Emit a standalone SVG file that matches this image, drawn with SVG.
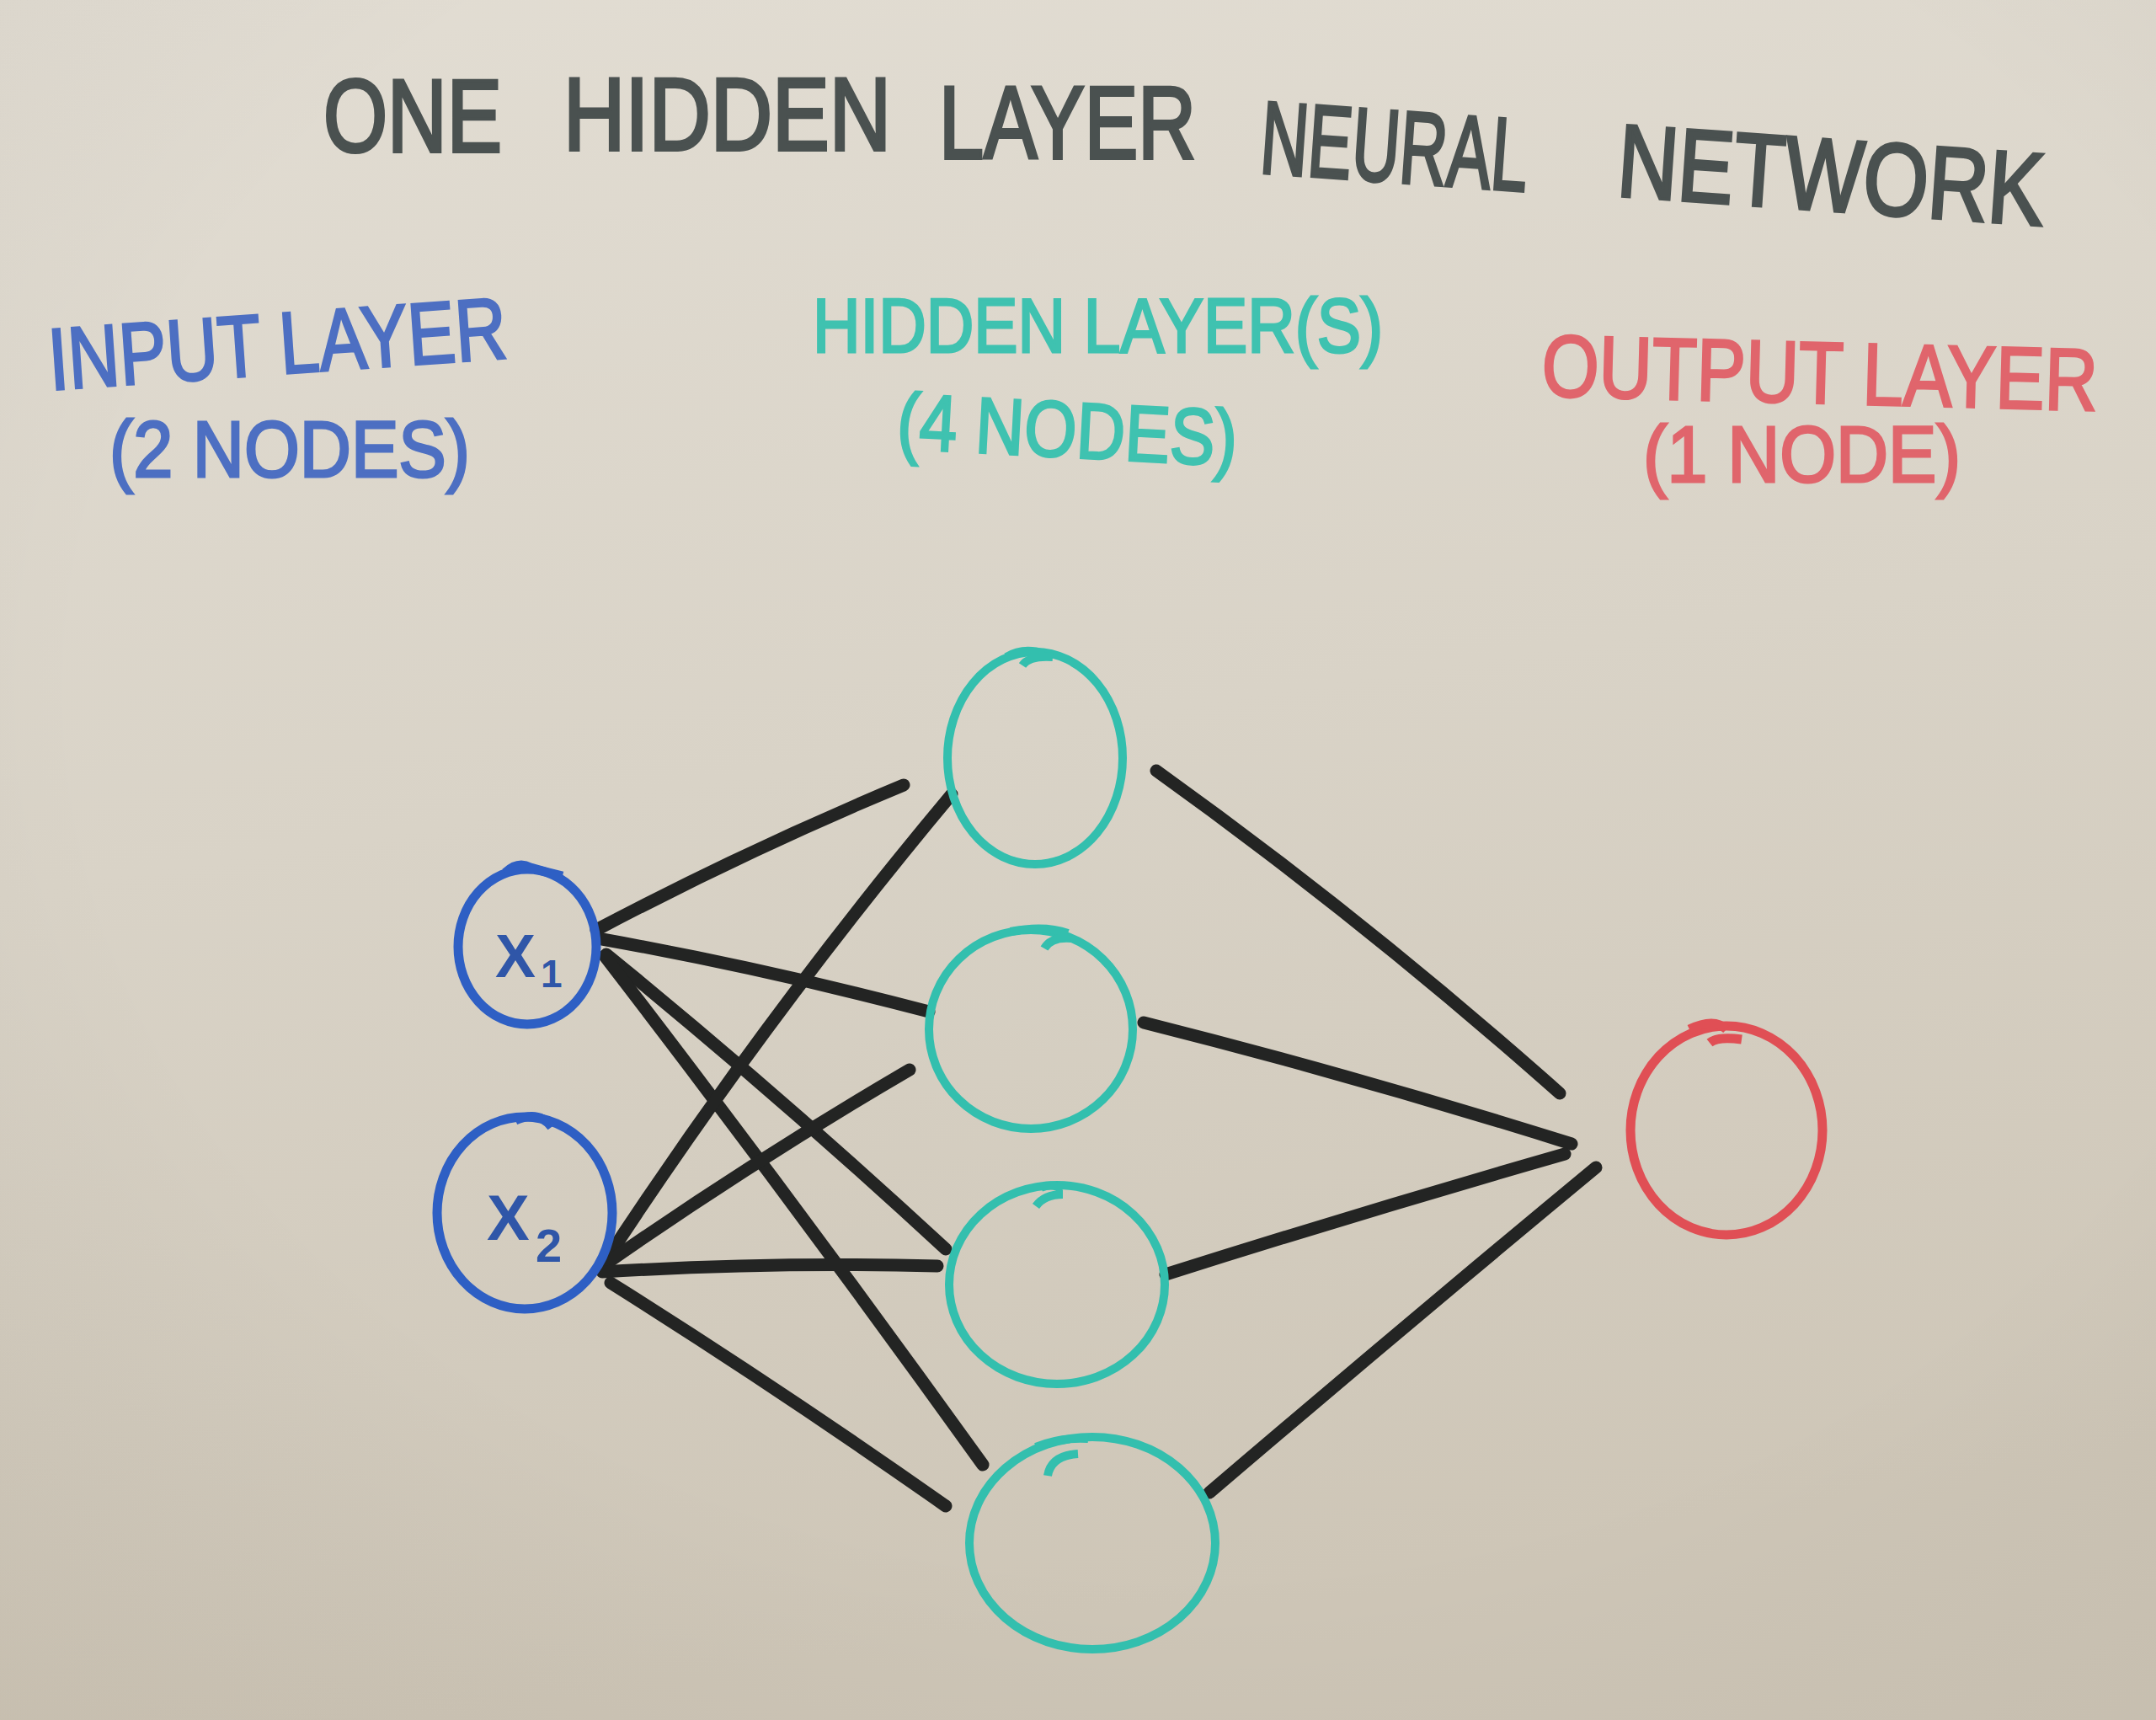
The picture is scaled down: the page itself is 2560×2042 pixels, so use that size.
<svg xmlns="http://www.w3.org/2000/svg" width="2560" height="2042" viewBox="0 0 2560 2042">
  <defs>
    <linearGradient id="bg" x1="0" y1="0" x2="0.2" y2="1">
      <stop offset="0" stop-color="#e2ddd3"/>
      <stop offset="0.5" stop-color="#d9d3c7"/>
      <stop offset="1" stop-color="#cec6b7"/>
    </linearGradient>
    <radialGradient id="vig" cx="0.55" cy="0.4" r="0.85">
      <stop offset="0.6" stop-color="#000" stop-opacity="0"/>
      <stop offset="1" stop-color="#5a4a30" stop-opacity="0.07"/>
    </radialGradient>
  </defs>
  <style>
    .title { font-family: "Liberation Sans", Arial, sans-serif; font-size: 122px; fill: #4a5150; stroke: #4a5150; stroke-width: 4; }
    .lbl { font-family: "Liberation Sans", Arial, sans-serif; stroke-width: 3; }
    .in { fill: #4d6fc2; stroke: #4d6fc2; }
    .hid { fill: #3fc2b0; stroke: #3fc2b0; }
    .out { fill: #e0656c; stroke: #e0656c; }
    .edge { fill: none; stroke: #232423; stroke-width: 15; stroke-linecap: round; stroke-linejoin: round; }
    .nin { fill: none; stroke: #2e5fc4; stroke-width: 11; }
    .nhid { fill: none; stroke: #33bfae; stroke-width: 10; }
    .nout { fill: none; stroke: #e04f55; stroke-width: 11; }
    .sym { font-family: "Liberation Sans", Arial, sans-serif; font-weight: bold; fill: #2f56a8; }
  </style>

  <rect x="0" y="0" width="2560" height="2042" fill="url(#bg)"/>
  <rect x="0" y="0" width="2560" height="2042" fill="url(#vig)"/>

  <!-- Title -->
  <g id="title">
    <text class="title" x="384" y="180" textLength="212" lengthAdjust="spacingAndGlyphs">ONE</text>
    <text class="title" x="669" y="178" textLength="389" lengthAdjust="spacingAndGlyphs">HIDDEN</text>
    <text class="title" x="1115" y="188" textLength="305" lengthAdjust="spacingAndGlyphs">LAYER</text>
    <text class="title" x="1494" y="216" textLength="318" lengthAdjust="spacingAndGlyphs" transform="rotate(4 1653 216)">NEURAL</text>
    <text class="title" x="1918" y="250" textLength="507" lengthAdjust="spacingAndGlyphs" transform="rotate(4 2171 250)">NETWORK</text>
  </g>

  <!-- Layer labels -->
  <g id="label-input">
    <text class="lbl in" x="60" y="463" font-size="104" textLength="545" lengthAdjust="spacingAndGlyphs" transform="rotate(-4 60 463)">INPUT LAYER</text>
    <text class="lbl in" x="130" y="566" font-size="94" textLength="428" lengthAdjust="spacingAndGlyphs">(2 NODES)</text>
  </g>
  <g id="label-hidden">
    <text class="lbl hid" x="965" y="418" font-size="90" textLength="677" lengthAdjust="spacingAndGlyphs">HIDDEN LAYER(S)</text>
    <text class="lbl hid" x="1064" y="532" font-size="94" textLength="404" lengthAdjust="spacingAndGlyphs" transform="rotate(3 1064 532)">(4 NODES)</text>
  </g>
  <g id="label-output">
    <text class="lbl out" x="1830" y="470" font-size="104" textLength="660" lengthAdjust="spacingAndGlyphs" transform="rotate(1.5 1830 470)">OUTPUT LAYER</text>
    <text class="lbl out" x="1951" y="572" font-size="94" textLength="377" lengthAdjust="spacingAndGlyphs">(1 NODE)</text>
  </g>

  <!-- Connectors -->
  <g id="connectors">
    <path class="edge" d="M708,1104 Q890,1008 1073,932"/>
    <path class="edge" d="M715,1115 Q909,1150 1103,1201"/>
    <path class="edge" d="M720,1133 Q925,1300 1123,1483"/>
    <path class="edge" d="M718,1135 Q945,1430 1167,1739"/>
    <path class="edge" d="M713,1506 Q905,1212 1130,943" stroke-width="18"/>
    <path class="edge" d="M720,1500 Q895,1378 1080,1270" stroke-width="17"/>
    <path class="edge" d="M715,1510 Q914,1498 1113,1503" stroke-width="17"/>
    <path class="edge" d="M725,1523 Q924,1648 1123,1788" stroke-width="16"/>
    <path class="edge" d="M1373,915 Q1620,1092 1852,1298" stroke-width="13"/>
    <path class="edge" d="M1358,1214 Q1612,1278 1866,1358" stroke-width="14"/>
    <path class="edge" d="M1384,1513 Q1621,1438 1858,1370"/>
    <path class="edge" d="M1436,1772 Q1668,1574 1895,1386" stroke-width="14"/>
  </g>

  <!-- Input nodes -->
  <g id="node-x1">
    <ellipse class="nin" cx="626" cy="1124" rx="82" ry="92"/>
    <path class="nin" d="M600,1036 Q615,1022 630,1030 Q650,1036 668,1040" stroke-width="9"/>
    <text class="sym" x="588" y="1160" font-size="72">X</text>
    <text class="sym" x="642" y="1172" font-size="46">1</text>
  </g>
  <g id="node-x2">
    <ellipse class="nin" cx="623" cy="1440" rx="104" ry="114"/>
    <path class="nin" d="M612,1330 Q640,1318 655,1338" stroke-width="9"/>
    <text class="sym" x="578" y="1472" font-size="76">X</text>
    <text class="sym" x="636" y="1498" font-size="56">2</text>
  </g>

  <!-- Hidden nodes -->
  <g id="node-h1">
    <ellipse class="nhid" cx="1229" cy="900" rx="104" ry="126"/>
    <path class="nhid" d="M1195,780 Q1215,768 1240,776 M1214,790 Q1222,778 1250,780"/>
  </g>
  <g id="node-h2">
    <ellipse class="nhid" cx="1224" cy="1222" rx="121" ry="118"/>
    <path class="nhid" d="M1200,1106 Q1240,1098 1268,1108 M1240,1126 Q1248,1112 1272,1114"/>
  </g>
  <g id="node-h3">
    <ellipse class="nhid" cx="1255" cy="1525" rx="128" ry="118"/>
    <path class="nhid" d="M1236,1410 Q1250,1404 1262,1412 M1230,1432 Q1240,1418 1262,1418"/>
  </g>
  <g id="node-h4">
    <ellipse class="nhid" cx="1297" cy="1832" rx="146" ry="126"/>
    <path class="nhid" d="M1230,1718 Q1260,1706 1292,1708 M1244,1752 Q1248,1728 1280,1726"/>
  </g>

  <!-- Output node -->
  <g id="node-out">
    <ellipse class="nout" cx="2050" cy="1342" rx="114" ry="124"/>
    <path class="nout" d="M2006,1222 Q2035,1208 2050,1222 M2030,1238 Q2040,1230 2068,1234"/>
  </g>
</svg>
